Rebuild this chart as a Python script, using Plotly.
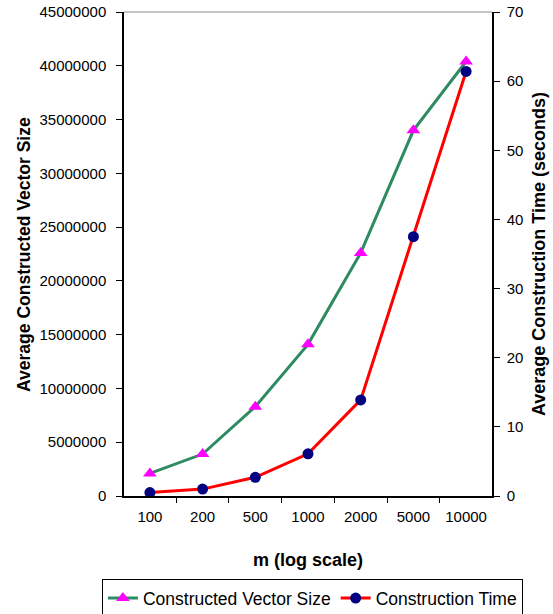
import plotly.graph_objects as go

categories = ["100", "200", "500", "1000", "2000", "5000", "10000"]
vector_size = [2100000, 3900000, 8300000, 14100000, 22600000, 34000000, 40400000]
construction_time = [0.5, 1.0, 2.7, 6.1, 13.9, 37.5, 61.4]
left_ticks = list(range(0, 45000001, 5000000))
right_ticks = list(range(0, 71, 10))

FONT = "Liberation Sans, Arial, sans-serif"

fig = go.Figure()
fig.add_trace(go.Scatter(
    x=categories, y=vector_size, name="Constructed Vector Size",
    mode="lines+markers",
    line=dict(color="#2e8b61", width=3),
    marker=dict(symbol="triangle-up", size=12, color="#ff00ff"),
    yaxis="y", cliponaxis=False,
))
fig.add_trace(go.Scatter(
    x=categories, y=construction_time, name="Construction Time",
    mode="lines+markers",
    line=dict(color="#ff0000", width=3),
    marker=dict(symbol="circle", size=11, color="#000080"),
    yaxis="y2", cliponaxis=False,
))

fig.update_layout(
    width=553, height=614,
    margin=dict(l=124, r=61, t=12, b=118, autoexpand=False),
    paper_bgcolor="white", plot_bgcolor="white",
    font=dict(family=FONT, size=15, color="black"),
    showlegend=True,
    legend=dict(
        orientation="h", x=-0.06, xanchor="left", y=-0.172, yanchor="top",
        bordercolor="black", borderwidth=1, font=dict(size=17.5),
        itemwidth=30, tracegroupgap=0,
    ),
    xaxis=dict(
        type="category", showline=True, linecolor="black", linewidth=1.5,
        ticks="outside", ticklen=5, tickcolor="black", tickson="boundaries",
        showgrid=False, zeroline=False, mirror=False, automargin=False,
        ticklabelstandoff=6,
    ),
    yaxis=dict(
        range=[0, 45000000], tickvals=left_ticks,
        ticktext=[str(v) for v in left_ticks],
        showline=True, linecolor="black", linewidth=1.5,
        ticks="outside", ticklen=6, tickcolor="black",
        showgrid=False, zeroline=False, automargin=False,
        ticklabelstandoff=7,
    ),
    yaxis2=dict(
        range=[0, 70], tickvals=right_ticks, overlaying="y", side="right",
        showline=True, linecolor="black", linewidth=1.5,
        ticks="outside", ticklen=6, tickcolor="black",
        showgrid=False, zeroline=False, automargin=False,
        ticklabelstandoff=4,
    ),
    shapes=[dict(type="line", xref="paper", yref="paper", x0=0, x1=1, y0=1, y1=1,
                 line=dict(color="#b0b0b0", width=1.5))],
    annotations=[
        dict(text="<b>m (log scale)</b>", xref="paper", yref="paper",
             x=0.5, y=-0.132, xanchor="center", yanchor="middle",
             showarrow=False, font=dict(size=18)),
        dict(text="<b>Average Constructed Vector Size</b>", xref="paper", yref="paper",
             x=-0.272, y=0.5, xanchor="center", yanchor="middle", textangle=-90,
             showarrow=False, font=dict(size=17.5)),
        dict(text="<b>Average Construction Time (seconds)</b>", xref="paper", yref="paper",
             x=1.128, y=0.5, xanchor="center", yanchor="middle", textangle=-90,
             showarrow=False, font=dict(size=18)),
    ],
)

fig.write_html("out.html", config={"displayModeBar": False},
               post_script="document.body.style.margin='0px';")
